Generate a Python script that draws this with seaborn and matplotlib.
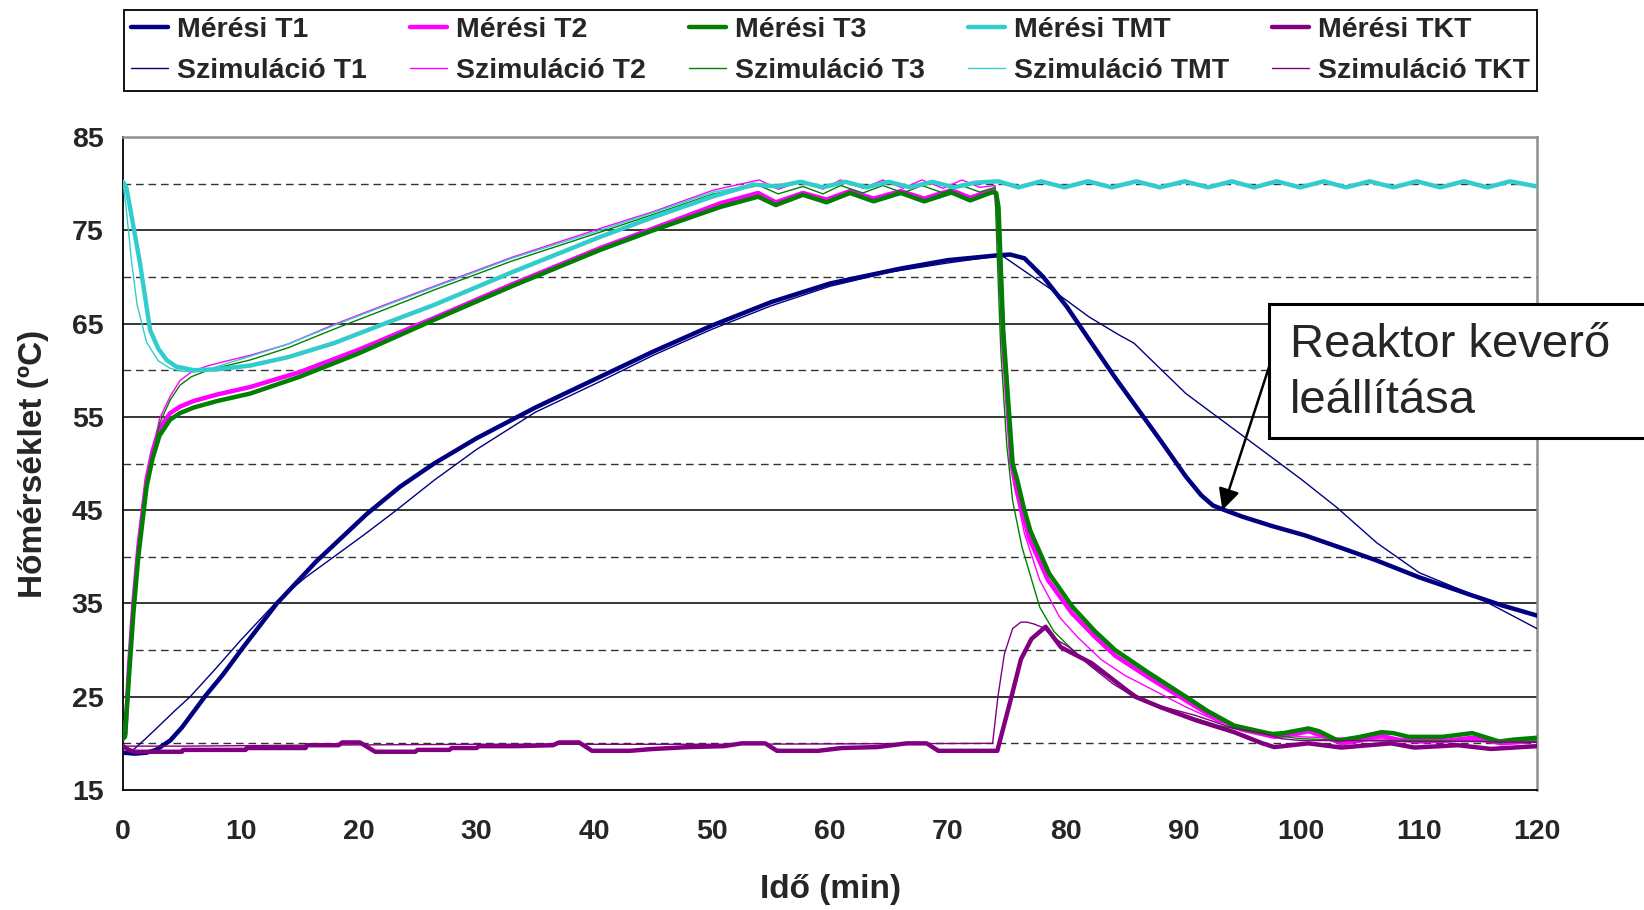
import matplotlib
matplotlib.use("Agg")
import matplotlib.pyplot as plt
import seaborn as sns
from matplotlib.lines import Line2D
from matplotlib.patches import Rectangle

t_m_t1 = [0, 1, 2, 2.8, 4, 5, 6, 7, 8.5, 10.2, 13.06, 16.4, 20.7, 23.5, 26.4, 30, 35, 40.5, 45, 50, 55, 60, 66, 70,
          74.1, 75.3, 76.5, 78.1, 80.1, 82.2, 84.2, 86.2, 88.2, 90.2, 91.5, 92.5, 93.5, 95, 97.5, 100.3, 103.5,
          106.4, 110, 114.4, 117, 120]
m_t1 = [19.0, 18.9, 19.0, 19.3, 20.3, 21.7, 23.4, 25.1, 27.4, 30.3, 35.0, 39.5, 44.6, 47.5, 50.0, 52.7, 56.0, 59.3,
        62.0, 64.8, 67.3, 69.3, 70.9, 71.8, 72.3, 72.4, 72.0, 70.0, 66.8, 62.9, 59.2, 55.7, 52.2, 48.6, 46.6, 45.5,
        45.0, 44.3, 43.3, 42.3, 40.9, 39.6, 37.8, 35.9, 34.8, 33.7]

t_s_t1 = [0, 0.7, 2, 3, 4.4, 5.7, 8, 9.95, 13.06, 15.5, 17.9, 20.5, 23, 26.4, 30, 35, 40.5, 45, 50, 55, 60, 65, 70,
          74, 74.7, 77, 79.3, 82, 84.5, 85.8, 88, 90.2, 95, 100, 103, 106.4, 110, 114.4, 117, 120]
s_t1 = [19.0, 19.1, 20.6, 21.8, 23.5, 25.0, 28.2, 31.0, 35.2, 37.8, 40.0, 42.4, 44.8, 48.2, 51.5, 55.5, 58.8, 61.6,
        64.4, 66.9, 69.0, 70.5, 71.5, 72.2, 72.2, 70.2, 68.2, 65.7, 63.8, 62.9, 60.2, 57.5, 53.0, 48.3, 45.3, 41.5,
        38.3, 36.0, 34.3, 32.3]

t_m_t2 = [0, 0.2, 0.5, 0.88, 1.3, 1.73, 2, 2.5, 3.1, 4, 4.84, 6, 8, 10.8, 15, 20, 26.4, 33, 40.5, 45, 50.7, 53.9,
          55.4, 57.7, 59.7, 61.7, 63.7, 66.0, 68.0, 70.3, 71.9, 73.8, 74.1, 74.3, 74.7, 75.4, 75.8, 76.9, 78.5,
          80.5, 82.5, 84.2, 87, 90.2, 92, 94.9, 97.7, 99.5, 100.6, 101.8, 103.4, 105, 106.8, 108.2, 110, 112.5,
          114.5, 117, 120]
m_t2 = [20.5, 21, 28, 35, 41, 45.5, 48.3, 51.3, 53.8, 55.4, 56.1, 56.7, 57.4, 58.2, 59.8, 62.2, 65.6, 69.2, 73.1,
        75.2, 77.9, 79.0, 78.0, 79.0, 78.3, 79.2, 78.4, 79.2, 78.4, 79.3, 78.5, 79.3, 78.8, 76, 63, 50, 47.3, 42.0,
        37.5, 34.0, 31.4, 29.4, 27.1, 24.6, 23.2, 21.5, 20.7, 21.0, 21.3, 20.8, 20.0, 20.3, 20.8, 20.4, 20.2, 20.3,
        20.6, 20.0, 20.3]

t_s_t2 = [0, 0.3, 0.7, 1.2, 1.7, 2.3, 3.1, 4, 4.84, 5.8, 7, 8.5, 10.8, 14, 17.9, 22, 26.4, 33, 40.5, 45, 50.1, 54.0,
          55.6, 57.7, 59.4, 60.9, 62.8, 64.5, 66.2, 67.8, 69.6, 71.2, 72.7, 74.0, 74.3, 74.6, 75.1, 75.6, 76.5, 77.8,
          79.5, 81, 83, 85, 87, 90.2, 93, 96.7, 100, 105, 110, 115, 120]
s_t2 = [20.5, 25, 33, 40, 45.5, 50, 54.8, 57.2, 58.9, 59.8, 60.4, 60.9, 61.6, 62.8, 64.9, 66.9, 69.0, 72.1, 75.2,
        77.0, 79.3, 80.4, 79.4, 80.3, 79.4, 80.4, 79.5, 80.4, 79.5, 80.4, 79.5, 80.4, 79.6, 79.8, 75, 65, 55, 48,
        42.5, 37.5, 33.5, 31.4, 29.0, 27.3, 26.0, 23.9, 22.3, 21.3, 20.7, 20.5, 20.4, 20.3, 20.2]

t_m_t3 = [0, 0.17, 0.5, 0.88, 1.3, 1.73, 2.0, 2.5, 3.1, 4, 4.84, 6, 8, 10.8, 15, 20, 26.4, 33, 40.5, 45, 50.7, 53.9,
          55.4, 57.7, 59.7, 61.7, 63.7, 66.0, 68.0, 70.3, 71.9, 73.8, 74.1, 74.3, 74.7, 75.5, 75.9, 76.4, 77.0,
          78.6, 80.6, 82.5, 84.2, 87, 90.2, 92, 94.3, 97.5, 98.5, 100.6, 101.5, 103.1, 105, 106.8, 107.8, 109.1,
          112, 114.5, 116.8, 118, 120]
m_t3 = [20.5, 20.7, 27, 33.9, 40, 44.6, 47.5, 50.5, 53.0, 54.7, 55.4, 56.0, 56.7, 57.5, 59.3, 61.8, 65.4, 69.0,
        72.9, 75.0, 77.5, 78.6, 77.7, 78.8, 78.0, 79.0, 78.1, 79.0, 78.1, 79.05, 78.2, 79.1, 79.0, 77.5, 64.3, 50.0,
        48.2, 45.5, 42.8, 38.2, 34.6, 32.0, 30.0, 27.6, 25.0, 23.5, 21.9, 21.0, 21.1, 21.6, 21.3, 20.3, 20.7, 21.2,
        21.1, 20.7, 20.7, 21.1, 20.2, 20.4, 20.6]

t_s_t3 = [0, 0.3, 0.7, 1.2, 1.7, 2.3, 3.1, 4, 4.84, 5.8, 7, 8.5, 10.8, 14, 17.9, 22, 26.4, 33, 40.5, 45, 50.1, 54.0,
          55.6, 57.7, 59.4, 60.9, 62.8, 64.5, 66.2, 67.8, 69.6, 71.2, 72.7, 74.0, 74.2, 74.5, 75.0, 75.5, 76.3,
          77.8, 79, 80.2, 82, 84, 86.2, 88, 90.2, 93, 96.7, 100, 105, 110, 115, 120]
s_t3 = [20.5, 24.5, 32.5, 39.5, 45, 49.5, 54.3, 56.8, 58.4, 59.3, 59.9, 60.4, 61.1, 62.4, 64.4, 66.4, 68.6, 71.7,
        74.8, 76.7, 78.9, 79.8, 78.9, 79.7, 78.9, 79.8, 79.0, 79.8, 79.0, 79.8, 79.0, 79.8, 79.1, 79.6, 72, 62, 52,
        46, 41, 34.6, 32.0, 30.5, 28.4, 26.8, 25.0, 24.0, 23.0, 21.9, 21.0, 20.5, 20.3, 20.3, 20.2, 20.2]

t_m_tmt = [0, 0.3, 0.8, 1.44, 2.3, 3.0, 3.7, 4.5, 6.0, 8, 10.8, 14, 17.9, 22, 26.4, 33, 40.5, 45, 50, 53.5, 55.5,
           57.5, 59.4, 61.3, 63.1, 65, 66.8, 68.7, 70.5, 72.3, 74.3, 76.0, 77.9, 79.9, 81.9, 83.9, 86.0, 88.0,
           90.1, 92.1, 94.1, 96.0, 97.9, 99.9, 101.9, 103.8, 105.8, 107.8, 109.8, 111.8, 113.8, 115.8, 117.7, 120]
m_tmt = [80.2, 79.5, 76, 71.5, 64.3, 62.3, 61.1, 60.4, 60.0, 60.1, 60.5, 61.4, 62.9, 64.9, 67.0, 70.5, 74.3, 76.4,
         78.6, 79.9, 79.7, 80.2, 79.6, 80.2, 79.6, 80.2, 79.6, 80.2, 79.6, 80.1, 80.25, 79.6, 80.25, 79.6, 80.25,
         79.6, 80.25, 79.6, 80.25, 79.6, 80.25, 79.6, 80.25, 79.6, 80.25, 79.6, 80.25, 79.6, 80.25, 79.6, 80.25,
         79.6, 80.25, 79.7]

t_s_tmt = [0, 0.3, 0.74, 1.2, 2, 3, 4, 5, 6, 7, 8.5, 10.8, 14, 17.9, 22, 26.4, 33, 40.5, 45, 50.1, 54, 55.8, 57.6,
           59.5, 61.4, 63.2, 65.1, 66.9, 68.8, 70.6, 72.4, 74.4, 76.1, 78.0, 80.0, 82.0, 84.0, 86.1, 88.1, 90.2,
           92.2, 94.2, 96.1, 98.0, 100.0, 102.0, 103.9, 105.9, 107.9, 109.9, 111.9, 113.9, 115.9, 117.8, 120]
s_tmt = [80.2, 77, 71.5, 67, 63, 61, 60.2, 59.9, 59.8, 60.0, 60.6, 61.5, 62.8, 64.8, 66.8, 68.9, 72.0, 75.0, 76.9,
         79.1, 80.0, 79.7, 80.2, 79.6, 80.2, 79.6, 80.2, 79.6, 80.2, 79.6, 80.1, 80.2, 79.6, 80.2, 79.6, 80.2, 79.6,
         80.2, 79.6, 80.2, 79.6, 80.2, 79.6, 80.2, 79.6, 80.2, 79.6, 80.2, 79.6, 80.2, 79.6, 80.2, 79.6, 80.2, 79.7]

t_m_tkt = [0, 0.5, 1, 5.0, 5.1, 10.4, 10.5, 15.5, 15.6, 18.3, 18.6, 20.1, 21.4, 24.8, 25, 27.7, 27.9, 30, 30.2,
           33.4, 36.5, 37, 38.7, 39.8, 43, 45, 48, 51, 52.5, 54.5, 55.5, 59, 61, 64, 66.5, 68.2, 69.2, 74.2, 75.4,
           76.2, 77.1, 78.3, 79.6, 82.2, 85.9, 88, 91, 94.3, 96.7, 97.7, 100.6, 103.4, 107.6, 109.6, 113.3, 116.1,
           120]
m_tkt = [19.7, 19.3, 19.1, 19.1, 19.3, 19.3, 19.5, 19.5, 19.8, 19.8, 20.1, 20.1, 19.1, 19.1, 19.3, 19.3, 19.5,
         19.5, 19.7, 19.7, 19.8, 20.1, 20.1, 19.2, 19.2, 19.4, 19.6, 19.7, 20.0, 20.0, 19.2, 19.2, 19.5, 19.6, 20.0,
         20.0, 19.2, 19.2, 25.0, 29.0, 31.2, 32.5, 30.3, 28.6, 25.0, 23.9, 22.5, 21.2, 20.0, 19.6, 20.0, 19.55,
         20.0, 19.55, 19.8, 19.4, 19.7]

t_s_tkt = [0, 5, 15, 30, 50, 73.8, 74.25, 74.8, 75.5, 76.2, 76.7, 77.3, 78.1, 79, 80.3, 82.2, 84, 85.4, 88, 91,
           94.3, 96.7, 98.3, 100, 105, 110, 115, 120]
s_tkt = [19.7, 19.7, 19.8, 19.9, 19.9, 20.0, 25.0, 29.6, 32.3, 33.0, 33.0, 32.8, 32.4, 31.3, 30.3, 28.2, 26.4,
         25.3, 24.0, 23.0, 21.6, 21.1, 20.5, 20.3, 20.3, 20.2, 20.2, 20.1]

series = [
    ("Mérési T1", t_m_t1, m_t1, "#000080", 3.2),
    ("Szimuláció T1", t_s_t1, s_t1, "#000080", 1.0),
    ("Mérési T2", t_m_t2, m_t2, "#FF00FF", 3.2),
    ("Szimuláció T2", t_s_t2, s_t2, "#FF00FF", 1.0),
    ("Mérési T3", t_m_t3, m_t3, "#008000", 3.2),
    ("Szimuláció T3", t_s_t3, s_t3, "#008000", 1.0),
    ("Mérési TMT", t_m_tmt, m_tmt, "#33CCCC", 3.2),
    ("Szimuláció TMT", t_s_tmt, s_tmt, "#33CCCC", 1.0),
    ("Mérési TKT", t_m_tkt, m_tkt, "#800080", 3.2),
    ("Szimuláció TKT", t_s_tkt, s_tkt, "#800080", 1.0),
]

sns.set_style("white")
plt.rcParams["font.family"] = ["Liberation Sans", "DejaVu Sans"]

fig = plt.figure(figsize=(16.44, 9.10), dpi=100)
ax = fig.add_axes([123 / 1644, 1 - 790 / 910, 1414 / 1644, 653 / 910])

# grid: solid at the labelled values, dashed in between
for v in range(25, 85, 10):
    ax.axhline(v, color="black", lw=1.1, zorder=1)
for v in range(20, 85, 10):
    ax.axhline(v, color="#333333", lw=1.0, dashes=(5.5, 3.5), zorder=1)

handles = []
for name, tx, ty, col, lw in series:
    sns.lineplot(x=tx, y=ty, ax=ax, color=col, linewidth=lw, sort=False, zorder=3)
    handles.append(Line2D([0], [0], color=col, lw=lw, label=name))

ax.set_xlim(0, 120)
ax.set_ylim(15, 85)
ax.set_xticks(range(0, 121, 10))
ax.set_yticks(range(15, 86, 10))
ax.tick_params(axis="both", labelsize=20.5, direction="out", length=8, width=1.2, color="black")
ax.tick_params(axis="x", pad=13)
ax.tick_params(axis="y", pad=6)
for lab in ax.get_xticklabels() + ax.get_yticklabels():
    lab.set_fontweight("bold")

ax.set_xlabel("Idő (min)", fontsize=24, fontweight="bold")
ax.set_ylabel("Hőmérséklet (ºC)", fontsize=24, fontweight="bold")
ax.xaxis.set_label_coords(0.5, -0.128)
ax.yaxis.set_label_coords(-0.052, 0.5)

for side in ["left", "bottom"]:
    ax.spines[side].set_color("black")
    ax.spines[side].set_linewidth(1.3)
for side in ["top", "right"]:
    ax.spines[side].set_color("#909090")
    ax.spines[side].set_linewidth(1.8)
if ax.get_legend() is not None:
    ax.get_legend().remove()

leg = fig.legend(handles=handles, ncol=5, loc="center", mode="expand",
                 bbox_to_anchor=(124 / 1644, 1 - 94 / 910, 1413 / 1644, 87 / 910),
                 borderaxespad=0, fancybox=False, edgecolor="black", framealpha=1,
                 prop={"size": 20.5, "weight": "bold"}, handlelength=1.3, handletextpad=0.3,
                 labelspacing=0.5, borderpad=0.25)
leg.get_frame().set_linewidth(1.3)

# annotation box (runs off the right edge like the original)
box = Rectangle((1269 / 1644, 1 - 438 / 910), 500 / 1644, 134 / 910, transform=fig.transFigure,
                facecolor="white", edgecolor="black", lw=2.2, zorder=5, clip_on=False)
fig.add_artist(box)
fig.text(1290 / 1644, 1 - 373 / 910, "Reaktor keverő\nleállítása", fontsize=34, ha="left", va="center",
         linespacing=1.38, zorder=6)
ax.annotate("", xy=(93.3, 45.0), xytext=(97.4, 60.9),
            arrowprops=dict(arrowstyle="-|>", color="black", lw=1.8, mutation_scale=32, shrinkA=0, shrinkB=0),
            zorder=6)

fig.savefig("out.png", dpi=100)
